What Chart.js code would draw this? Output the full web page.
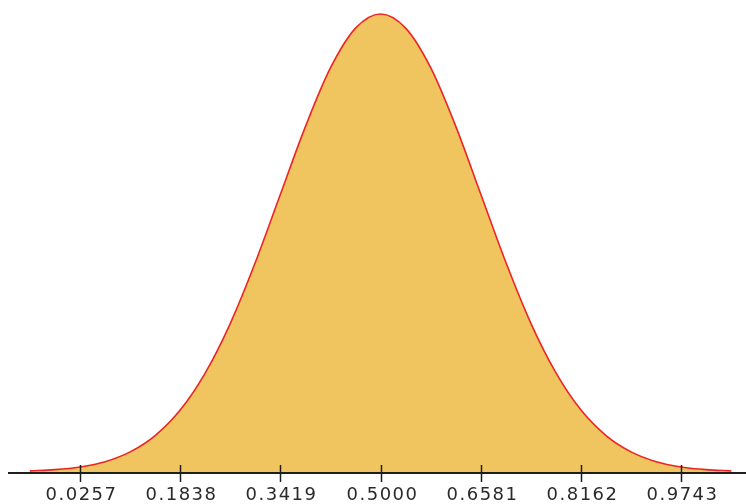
<!DOCTYPE html>
<html>
<head>
<meta charset="utf-8">
<script src="https://cdn.jsdelivr.net/npm/chart.js@4/dist/chart.umd.min.js"></script>
<style>
  html, body { margin: 0; padding: 0; background: #fff; }
  #wrap { width: 746px; height: 504px; }
</style>
</head>
<body>
<div id="wrap"><canvas id="curve" width="746" height="504"></canvas></div>
<script>
// x positions along the curve (mean 0.5, roughly +/- 3.5 sd)
const xValues = [-0.0534, -0.0138, 0.0257, 0.0653, 0.1048, 0.1443, 0.1838, 0.2234, 0.2629, 0.3024,
  0.3419, 0.3815, 0.4210, 0.4605, 0.5000, 0.5395, 0.5790, 0.6186, 0.6581, 0.6976,
  0.7371, 0.7767, 0.8162, 0.8557, 0.8952, 0.9348, 0.9743, 1.0138, 1.0534];
// curve heights
const densities = [0.006, 0.013, 0.028, 0.057, 0.111, 0.201, 0.341, 0.546, 0.819, 1.155,
  1.530, 1.904, 2.227, 2.445, 2.523, 2.445, 2.227, 1.904, 1.530, 1.155,
  0.819, 0.546, 0.341, 0.201, 0.111, 0.057, 0.028, 0.013, 0.006];
// axis ticks
const tickValues = [0.0257, 0.1838, 0.3419, 0.5000, 0.6581, 0.8162, 0.9743];
const tickLabels = ['0.0257', '0.1838', '0.3419', '0.5000', '0.6581', '0.8162', '0.9743'];

const points = xValues.map((x, i) => ({ x: x, y: densities[i] }));

// draws the base line, the tick marks and their labels
const axisPlugin = {
  id: 'axisPlugin',
  afterDraw(chart) {
    const ctx = chart.ctx;
    const xs = chart.scales.x;
    const base = chart.chartArea.bottom + 1;
    ctx.save();
    ctx.strokeStyle = '#1e1e1e';
    ctx.lineWidth = 2;
    ctx.beginPath();
    ctx.moveTo(chart.chartArea.left, base);
    ctx.lineTo(chart.width, base);
    ctx.stroke();

    ctx.lineWidth = 1.5;
    ctx.fillStyle = '#2a2a2a';
    ctx.font = '18px "DejaVu Sans", Verdana, sans-serif';
    ctx.letterSpacing = '1.5px';
    ctx.textAlign = 'center';
    ctx.textBaseline = 'middle';
    tickValues.forEach((v, i) => {
      const px = Math.round(xs.getPixelForValue(v)) + 0.5;
      ctx.beginPath();
      ctx.moveTo(px, base - 8);
      ctx.lineTo(px, base + 9);
      ctx.stroke();
      ctx.fillText(tickLabels[i], px + 1, base + 22);
    });
    ctx.restore();
  }
};

new Chart(document.getElementById('curve').getContext('2d'), {
  type: 'line',
  data: {
    datasets: [{
      data: points,
      borderColor: '#ee2424',
      borderWidth: 1.6,
      backgroundColor: 'rgb(240, 197, 96)',
      fill: 'origin',
      pointRadius: 0,
      cubicInterpolationMode: 'monotone'
    }]
  },
  options: {
    responsive: false,
    animation: false,
    layout: { padding: { left: 8, right: 0, top: 0, bottom: 32 } },
    scales: {
      x: { type: 'linear', min: -0.0879, max: 1.0765, display: false },
      y: { min: 0, max: 2.600, display: false }
    },
    plugins: {
      legend: { display: false },
      tooltip: { enabled: false }
    }
  },
  plugins: [axisPlugin]
});
</script>
</body>
</html>
